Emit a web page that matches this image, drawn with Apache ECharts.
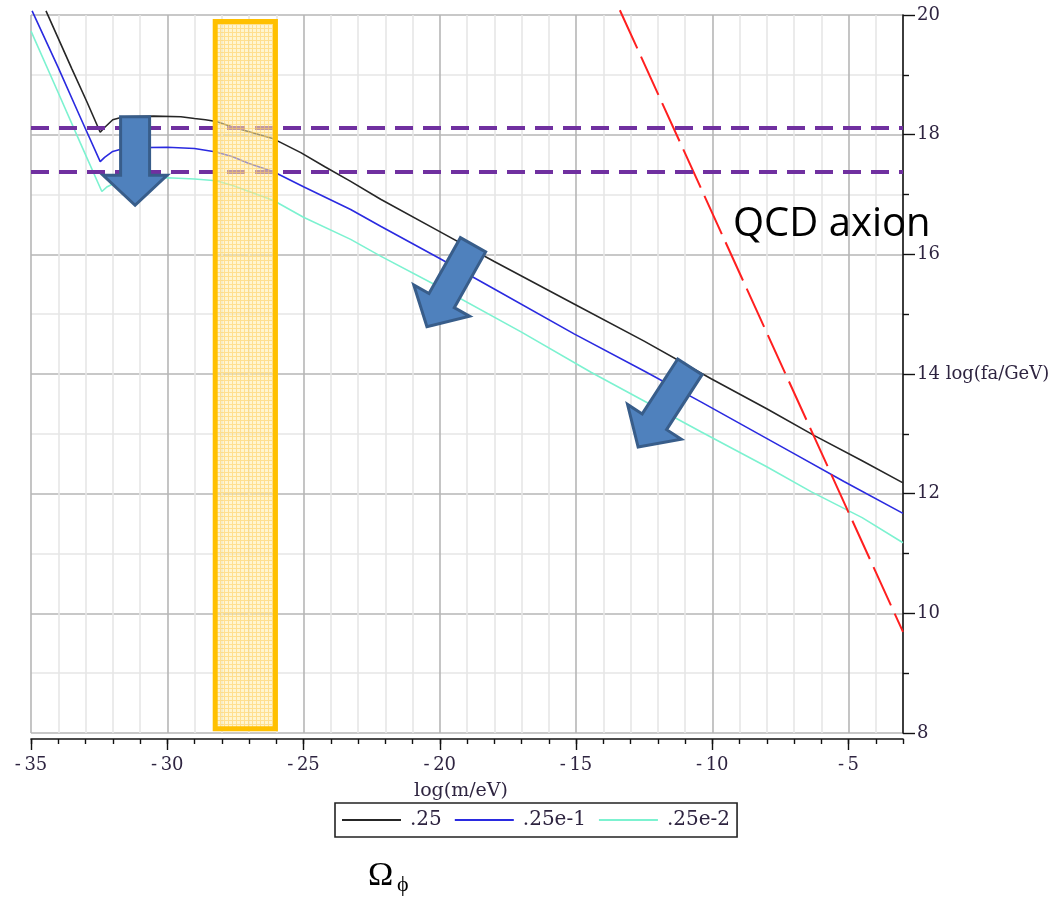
<!DOCTYPE html>
<html>
<head>
<meta charset="utf-8">
<script src="https://cdn.jsdelivr.net/npm/echarts@6/dist/echarts.min.js"></script>
<style>
  html, body { margin: 0; padding: 0; background: #ffffff; }
  #chart { width: 1057px; height: 898px; }
</style>
</head>
<body>
<div id="chart"></div>
<script>
// log10(m/eV) against log10(fa/GeV) for three values of Omega_phi
const omegaLabels = ['.25', '.25e-1', '.25e-2'];

const curve025 = [
  [-34.45, 20.07], [-33.5, 19.1], [-32.95, 18.55], [-32.46, 18.04], [-32.3, 18.12],
  [-32.0, 18.25], [-31.6, 18.3], [-30.5, 18.31], [-29.5, 18.3], [-29.0, 18.27],
  [-28.6, 18.25], [-28.2, 18.22], [-27.6, 18.13], [-27.0, 18.05], [-26.1, 17.93],
  [-25.1, 17.7], [-24.2, 17.46], [-23.27, 17.22], [-22.17, 16.92], [-20.0, 16.38],
  [-18.0, 15.88], [-15.07, 15.17], [-12.5, 14.55], [-10.04, 13.92], [-8.0, 13.42],
  [-6.25, 12.97], [-4.5, 12.55], [-3.0, 12.18]
];
const curve025e1 = [
  [-34.96, 20.07], [-34.0, 19.12], [-33.2, 18.3], [-32.46, 17.55], [-32.3, 17.62],
  [-32.0, 17.72], [-31.5, 17.78], [-30.0, 17.79], [-29.0, 17.77], [-28.2, 17.71],
  [-27.6, 17.63], [-27.0, 17.52], [-26.1, 17.38], [-25.0, 17.13], [-23.27, 16.75],
  [-22.17, 16.47], [-20.0, 15.93], [-18.0, 15.42], [-15.07, 14.67], [-12.5, 14.05],
  [-10.4, 13.53], [-7.0, 12.67], [-5.15, 12.2], [-3.0, 11.67]
];
const curve025e2 = [
  [-35.0, 19.73], [-34.0, 18.7], [-33.2, 17.87], [-32.4, 17.05], [-32.2, 17.13],
  [-31.8, 17.22], [-31.3, 17.27], [-30.0, 17.28], [-29.0, 17.26], [-28.2, 17.23],
  [-27.6, 17.15], [-27.0, 17.05], [-26.1, 16.9], [-25.0, 16.62], [-23.27, 16.25],
  [-22.17, 15.97], [-20.0, 15.45], [-17.0, 14.7], [-14.45, 14.03], [-12.5, 13.55],
  [-10.4, 13.03], [-8.0, 12.45], [-6.36, 12.03], [-4.5, 11.6], [-3.0, 11.18]
];

// QCD axion relation: log fa = const - log m
const qcdAxion = [[-13.39, 20.08], [-3.0, 9.69]];

// horizontal reference levels of log(fa/GeV)
const faLevels = [18.12, 17.38];

// highlighted mass window: [xFrom, yTop, xTo, yBottom]
const massWindow = [[-28.24, 19.89, -26.03, 8.07]];

// arrows: [xTail, yTail, xTip, yTip]
const arrowPaths = [
  [-31.18, 18.30, -31.18, 16.82],
  [-18.78, 16.16, -20.47, 14.79],
  [-10.82, 14.12, -12.72, 12.78]
];

const xMajorTicks = [-35, -30, -25, -20, -15, -10, -5];

const serif = 'DejaVu Serif';
const labelColor = '#2e2440';
const majorGrid = '#b6b6b6';
const minorGrid = '#e6e6e6';

// dotted fill for the mass window
const pat = document.createElement('canvas');
pat.width = 4; pat.height = 4;
const pg = pat.getContext('2d');
pg.fillStyle = 'rgba(255,236,170,0.55)';
pg.fillRect(0, 0, 4, 4);
pg.fillStyle = 'rgba(255,205,90,0.55)';
pg.fillRect(0, 0, 1, 4);
pg.fillRect(1, 0, 3, 1);

const chart = echarts.init(document.getElementById('chart'), null, { renderer: 'canvas' });

function lineSeries(name, data, color) {
  return {
    name: name,
    type: 'line',
    data: data,
    xAxisIndex: 0,
    yAxisIndex: 0,
    symbol: 'none',
    clip: false,
    z: 3,
    lineStyle: { color: color, width: 1.6 },
    itemStyle: { color: color },
    emphasis: { disabled: true },
    animation: false
  };
}

const option = {
  animation: false,
  backgroundColor: '#ffffff',
  grid: { left: 31, right: 154, top: 15, bottom: 165, containLabel: false },
  xAxis: [
    {
      type: 'value', min: -35, max: -3, interval: 1, position: 'bottom', offset: 6,
      name: 'log(m/eV)', nameLocation: 'middle', nameGap: 43,
      nameTextStyle: { fontFamily: serif, fontSize: 19, color: labelColor, padding: [0, 12, 0, 0] },
      axisLine: { show: true, onZero: false, lineStyle: { color: '#111', width: 1.6 } },
      axisTick: { show: true, length: 5, lineStyle: { color: '#111', width: 1.4 } },
      axisLabel: {
        margin: 17, fontFamily: serif, fontSize: 18, color: labelColor,
        formatter: v => (v % 5 === 0 ? '-\u2009' + Math.abs(v) : '')
      },
      splitLine: {
        show: true,
        lineStyle: { color: [majorGrid, minorGrid, minorGrid, minorGrid, minorGrid], width: 1.6 }
      }
    },
    {
      type: 'value', min: -35, max: -3, interval: 5, position: 'bottom', offset: 6,
      axisLine: { show: false },
      axisTick: { show: true, length: 11, customValues: xMajorTicks, lineStyle: { color: '#111', width: 1.4 } },
      axisLabel: { show: false },
      splitLine: { show: false }
    }
  ],
  yAxis: {
    type: 'value', min: 8, max: 20, interval: 2, position: 'right',
    axisLine: { show: true, onZero: false, lineStyle: { color: '#111', width: 1.6 } },
    axisTick: { show: true, length: 12, lineStyle: { color: '#111', width: 1.4 } },
    minorTick: { show: true, splitNumber: 2, length: 6, lineStyle: { color: '#111', width: 1.4 } },
    axisLabel: {
      margin: 14, fontFamily: serif, fontSize: 18, color: labelColor,
      formatter: v => (v === 14 ? '14 log(fa/GeV)' : String(v))
    },
    splitLine: { show: true, lineStyle: { color: majorGrid, width: 1.6 } },
    minorSplitLine: { show: true, lineStyle: { color: minorGrid, width: 1.6 } }
  },
  legend: {
    data: omegaLabels.map(n => ({ name: n, icon: 'rect' })),
    left: 335, top: 803,
    orient: 'horizontal',
    backgroundColor: '#ffffff',
    borderColor: '#222',
    borderWidth: 1.6,
    borderRadius: 0,
    padding: [6, 7, 6, 7],
    itemWidth: 59, itemHeight: 2, itemGap: 13,
    selectedMode: false,
    textStyle: { fontFamily: serif, fontSize: 20, color: labelColor, padding: [0, 0, 0, 4], lineHeight: 22 }
  },
  series: [
    lineSeries(omegaLabels[0], curve025, '#262626'),
    lineSeries(omegaLabels[1], curve025e1, '#2a2ae0'),
    lineSeries(omegaLabels[2], curve025e2, '#7cf2d0'),
    {
      name: 'QCD axion',
      type: 'line',
      data: qcdAxion,
      symbol: 'none',
      clip: false,
      z: 4,
      lineStyle: { color: '#ff1f1f', width: 2, type: [42, 9] },
      emphasis: { disabled: true },
      markLine: {
        silent: true,
        symbol: 'none',
        label: { show: false },
        lineStyle: { color: '#7030a0', width: 4, type: [18, 10] },
        data: faLevels.map(v => ({ yAxis: v }))
      }
    },
    {
      name: 'window',
      type: 'custom',
      data: massWindow,
      encode: { x: [0, 2], y: [1, 3] },
      clip: false,
      z: 10,
      silent: true,
      renderItem: function (params, api) {
        const p0 = api.coord([api.value(0), api.value(1)]);
        const p1 = api.coord([api.value(2), api.value(3)]);
        return {
          type: 'rect',
          shape: { x: p0[0], y: p0[1], width: p1[0] - p0[0], height: p1[1] - p0[1] },
          style: { fill: { image: pat, repeat: 'repeat' }, stroke: '#ffc000', lineWidth: 5 }
        };
      }
    },
    {
      name: 'arrows',
      type: 'custom',
      data: arrowPaths,
      encode: { x: [0, 2], y: [1, 3] },
      clip: false,
      z: 12,
      silent: true,
      renderItem: function (params, api) {
        const t = api.coord([api.value(0), api.value(1)]);
        const p = api.coord([api.value(2), api.value(3)]);
        const dx = p[0] - t[0], dy = p[1] - t[1];
        const len = Math.sqrt(dx * dx + dy * dy);
        const ux = dx / len, uy = dy / len;
        const nx = -uy, ny = ux;
        const headLen = 30, shaftHalf = 14.5, headHalf = 32;
        const b = [p[0] - ux * headLen, p[1] - uy * headLen];
        const pts = [
          [t[0] + nx * shaftHalf, t[1] + ny * shaftHalf],
          [b[0] + nx * shaftHalf, b[1] + ny * shaftHalf],
          [b[0] + nx * headHalf, b[1] + ny * headHalf],
          [p[0], p[1]],
          [b[0] - nx * headHalf, b[1] - ny * headHalf],
          [b[0] - nx * shaftHalf, b[1] - ny * shaftHalf],
          [t[0] - nx * shaftHalf, t[1] - ny * shaftHalf]
        ];
        return {
          type: 'polygon',
          shape: { points: pts },
          style: { fill: '#4f81bd', stroke: '#385d8a', lineWidth: 3, lineJoin: 'miter' }
        };
      }
    }
  ],
  graphic: [
    {
      type: 'text', left: 733, top: 205, z: 100,
      style: { text: 'QCD axion', font: '40px "Open Sans"', fill: '#000000' }
    },
    {
      type: 'text', left: 368, top: 859, z: 100,
      style: { text: 'Ω', font: '34px "Liberation Serif"', fill: '#000000' }
    },
    {
      type: 'text', left: 397, top: 874, z: 100,
      style: { text: '\u03D5', font: '22px "Liberation Serif"', fill: '#000000' }
    }
  ]
};

chart.setOption(option);
</script>
</body>
</html>
